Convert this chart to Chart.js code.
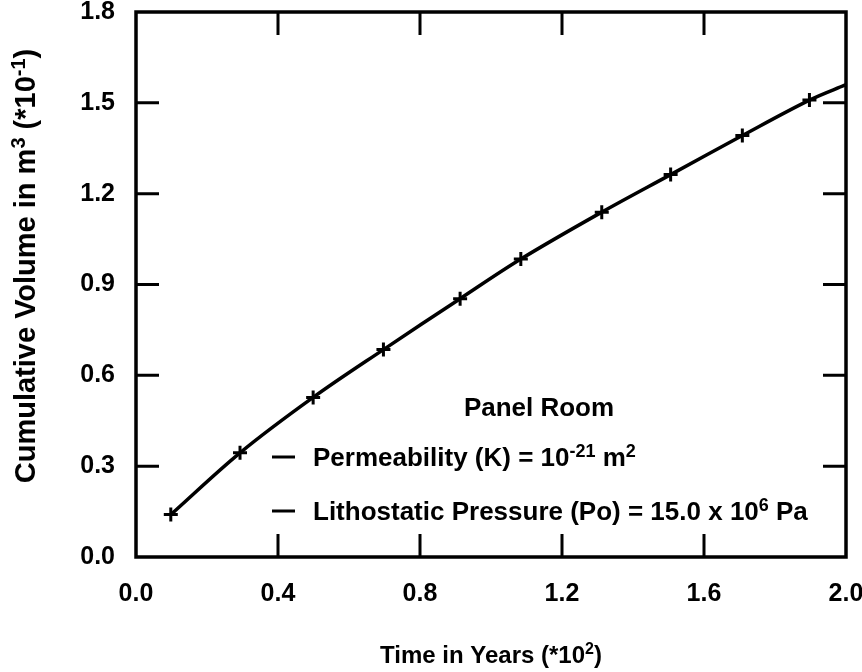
<!DOCTYPE html>
<html>
<head>
<meta charset="utf-8">
<script src="https://cdn.jsdelivr.net/npm/chart.js@4/dist/chart.umd.min.js"></script>
<style>
  html, body { margin: 0; padding: 0; background: #fff; }
  #wrap { width: 862px; height: 672px; }
</style>
</head>
<body>
<div id="wrap"><canvas id="c" width="862" height="672"></canvas></div>
<script>
// Time (hundreds of years) and cumulative volume (tenths of m^3) at the marked points
const timeYears = [0.098, 0.293, 0.499, 0.697, 0.913, 1.084, 1.312, 1.506, 1.708, 1.897];
const cumVolume = [0.140, 0.344, 0.527, 0.685, 0.853, 0.984, 1.139, 1.263, 1.392, 1.509];
// The curve continues past the last marker to the edge of the axis
const curveEndTime = 2.0;
const curveEndVolume = 1.560;

// Axis tick values
const xTickValues = [0.0, 0.4, 0.8, 1.2, 1.6, 2.0];
const yTickValues = [0.0, 0.3, 0.6, 0.9, 1.2, 1.5, 1.8];

const FONT = '"Liberation Sans", Arial, Helvetica, sans-serif';

const markerPoints = timeYears.map((t, i) => ({ x: t, y: cumVolume[i] }));
const curvePoints = markerPoints.concat([{ x: curveEndTime, y: curveEndVolume }]);

// Draw a run of text pieces, some of them superscript, starting at x (baseline y)
function richWidth(ctx, parts, size) {
  let w = 0;
  for (const p of parts) {
    ctx.font = 'bold ' + (p.sup ? Math.round(size * 0.68) : size) + 'px ' + FONT;
    w += ctx.measureText(p.t).width;
  }
  return w;
}
function drawRich(ctx, parts, x, y, size) {
  let cx = x;
  for (const p of parts) {
    const s = p.sup ? Math.round(size * 0.68) : size;
    ctx.font = 'bold ' + s + 'px ' + FONT;
    ctx.fillText(p.t, cx, p.sup ? y - size * 0.36 : y);
    cx += ctx.measureText(p.t).width;
  }
}

const framePlugin = {
  id: 'frame',
  afterDatasetsDraw(chart) {
    const { ctx, chartArea: a, scales } = chart;
    ctx.save();
    ctx.strokeStyle = '#000';
    ctx.lineWidth = 3.5;
    ctx.lineCap = 'square';
    ctx.strokeRect(a.left, a.top, a.right - a.left, a.bottom - a.top);

    // inward tick marks on all four sides
    const len = 23;
    ctx.lineWidth = 3;
    ctx.lineCap = 'butt';
    ctx.beginPath();
    xTickValues.slice(1, -1).forEach(v => {
      const px = scales.x.getPixelForValue(v);
      ctx.moveTo(px, a.bottom); ctx.lineTo(px, a.bottom - len);
      ctx.moveTo(px, a.top); ctx.lineTo(px, a.top + len);
    });
    yTickValues.slice(1, -1).forEach(v => {
      const py = scales.y.getPixelForValue(v);
      ctx.moveTo(a.left, py); ctx.lineTo(a.left + len, py);
      ctx.moveTo(a.right, py); ctx.lineTo(a.right - len, py);
    });
    ctx.stroke();
    ctx.restore();
  },
  afterDraw(chart) {
    const { ctx, chartArea: a } = chart;
    ctx.save();
    ctx.fillStyle = '#000';
    ctx.strokeStyle = '#000';
    ctx.textBaseline = 'alphabetic';
    ctx.textAlign = 'left';

    // annotation block
    const size = 26;
    const cap = size * 0.36;
    const title = [{ t: 'Panel Room' }];
    const tw = richWidth(ctx, title, size);
    drawRich(ctx, title, 539 - tw / 2, 407 + cap, size);

    const lines = [
      { y: 457, parts: [{ t: 'Permeability (K) = 10' }, { t: '-21', sup: true }, { t: ' m' }, { t: '2', sup: true }] },
      { y: 511, parts: [{ t: 'Lithostatic Pressure (Po) = 15.0 x 10' }, { t: '6', sup: true }, { t: ' Pa' }] }
    ];
    ctx.lineWidth = 3;
    lines.forEach(l => {
      ctx.beginPath();
      ctx.moveTo(272, l.y);
      ctx.lineTo(295, l.y);
      ctx.stroke();
      drawRich(ctx, l.parts, 313, l.y + cap, size);
    });

    // x axis title
    const xs = 24;
    const xParts = [{ t: 'Time in Years (*10' }, { t: '2', sup: true }, { t: ')' }];
    const xw = richWidth(ctx, xParts, xs);
    drawRich(ctx, xParts, (a.left + a.right) / 2 - xw / 2, 654 + xs * 0.36, xs);

    // y axis title
    const ys = 29;
    const yParts = [{ t: 'Cumulative Volume in m' }, { t: '3', sup: true }, { t: ' (*10' }, { t: '-1', sup: true }, { t: ')' }];
    const yw = richWidth(ctx, yParts, ys);
    ctx.translate(25, 266);
    ctx.rotate(-Math.PI / 2);
    drawRich(ctx, yParts, -yw / 2, ys * 0.36, ys);
    ctx.restore();
  }
};

new Chart(document.getElementById('c'), {
  type: 'scatter',
  data: {
    datasets: [
      {
        data: curvePoints,
        showLine: true,
        borderColor: '#000',
        borderWidth: 3.5,
        pointRadius: 0,
        tension: 0.35,
        fill: false
      },
      {
        data: markerPoints,
        showLine: false,
        pointStyle: 'cross',
        pointRadius: 7,
        pointBorderWidth: 3,
        pointBorderColor: '#000',
        pointBackgroundColor: '#000'
      }
    ]
  },
  options: {
    responsive: false,
    animation: false,
    devicePixelRatio: 1,
    layout: { padding: { left: 0, right: 16, top: 12, bottom: 0 } },
    plugins: { legend: { display: false }, tooltip: { enabled: false } },
    scales: {
      x: {
        type: 'linear',
        min: 0, max: 2.0,
        afterBuildTicks: s => { s.ticks = xTickValues.map(v => ({ value: v })); },
        afterFit: s => { s.height = 115; s.paddingLeft = 0; s.paddingRight = 0; },
        ticks: {
          color: '#000',
          padding: 22,
          maxRotation: 0,
          autoSkip: false,
          font: { family: FONT, size: 25, weight: 'bold' },
          callback: v => Number(v).toFixed(1)
        },
        grid: { display: false, drawTicks: false },
        border: { display: false }
      },
      y: {
        type: 'linear',
        min: 0, max: 1.8,
        afterBuildTicks: s => { s.ticks = yTickValues.map(v => ({ value: v })); },
        afterFit: s => { s.width = 136; s.paddingTop = 0; s.paddingBottom = 0; },
        ticks: {
          color: '#000',
          padding: 21,
          autoSkip: false,
          font: { family: FONT, size: 25, weight: 'bold' },
          callback: v => Number(v).toFixed(1)
        },
        grid: { display: false, drawTicks: false },
        border: { display: false }
      }
    }
  },
  plugins: [framePlugin]
});
</script>
</body>
</html>
